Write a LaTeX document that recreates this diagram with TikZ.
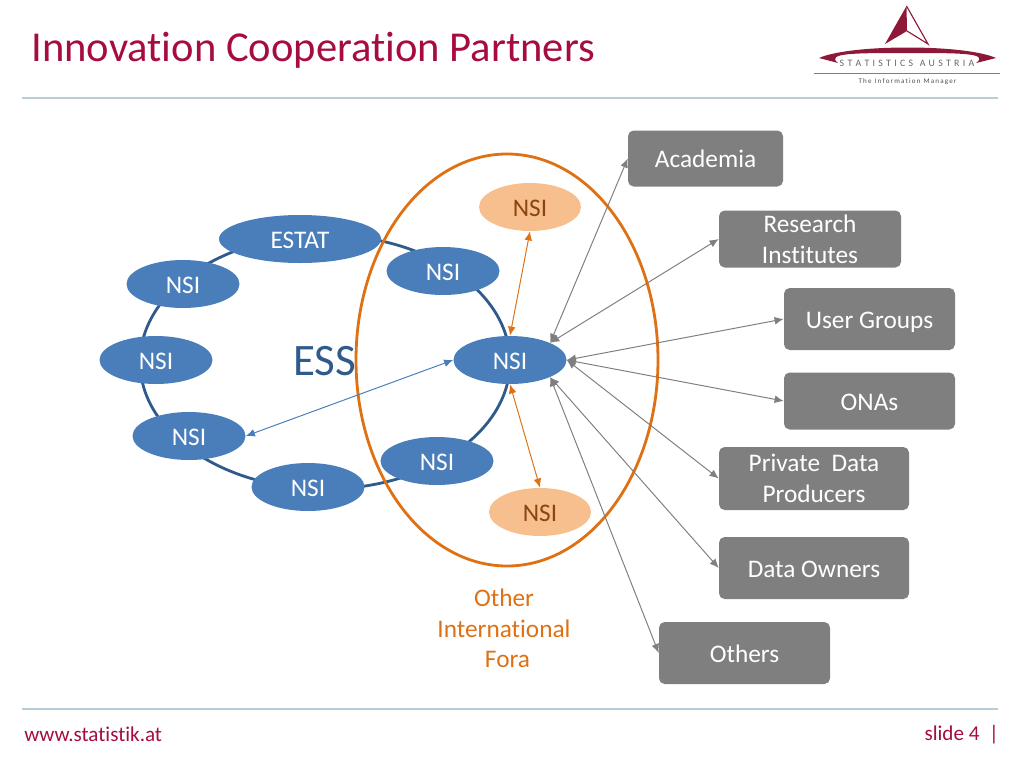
\documentclass[tikz,border=0pt]{standalone}
\usepackage{fontspec}
\setmainfont[Ligatures=NoCommon]{Carlito}
\usetikzlibrary{arrows.meta,shapes.geometric}
\definecolor{essblue}{HTML}{4A7EBB}
\definecolor{ringblue}{HTML}{2F5A8C}
\definecolor{foraorange}{HTML}{DE7114}
\definecolor{forabrown}{HTML}{8A4510}
\definecolor{peach}{HTML}{F7BE8E}
\definecolor{boxgray}{HTML}{7F7F7F}
\definecolor{titlered}{HTML}{A50D3F}
\definecolor{rulegray}{HTML}{B9CDD9}
\definecolor{logored}{HTML}{8E1838}
\def\px{0.25mm}
\tikzset{
	oneline/.style={text height=13pt, text depth=0pt},
	member/.style={ellipse, oneline, fill=essblue, text=white, inner sep=0pt, minimum width=113*\px, minimum height=48*\px, font=\fontsize{18}{18}\selectfont},
	fora/.style={ellipse, oneline, fill=peach, text=forabrown, inner sep=0pt, minimum width=102*\px, minimum height=48*\px, font=\fontsize{18}{18}\selectfont},
	partner/.style={rounded corners=4pt, fill=boxgray, text=white, align=center, font=\fontsize{18}{22}\selectfont, inner sep=0pt},
	link/.style={<->, >={Latex[length=6.5pt,width=5.5pt]}, boxgray, line width=0.7pt},
	orangelink/.style={<->, >={Latex[length=6.5pt,width=5.5pt]}, foraorange, line width=0.7pt},
	bluelink/.style={<->, >={Latex[length=6.5pt,width=5.5pt]}, essblue, line width=0.7pt}
}
\begin{document}
\begin{tikzpicture}[x=\px, y=-\px]
	\useasboundingbox (0, 0) rectangle (1024, 768);
	%%%%% HEADER %%%%%
	\node[anchor=west, text=titlered, inner sep=0pt, font=\fontsize{30.3}{30.3}\selectfont] (title) at (31, 50.5) {Innovation Cooperation Partners};
	\fill[rulegray] (22, 97) rectangle (998, 99);
	\fill[rulegray] (22, 707.5) rectangle (998, 709.5);
	\node[anchor=west, text=titlered, inner sep=0pt, font=\fontsize{15}{15}\selectfont] (web) at (24, 734.5) {www.statistik.at};
	\node[anchor=east, text=titlered, inner sep=0pt, font=\fontsize{15}{15}\selectfont] (slide) at (999, 734.5) {slide 4\ \ |};

	%%%%% LOGO %%%%%
	\fill[logored] (906.5, 6) -- (885, 44) -- (907, 31) -- cycle;
	\draw[logored, line width=0.8pt] (906.5, 6) -- (928, 44) -- (907, 31);
	\fill[logored] (819, 58) .. controls (850, 44) and (965, 44) .. (996, 58) -- (976, 63) .. controls (990, 53) and (960, 53) .. (907, 53) .. controls (855, 53) and (825, 53) .. (838, 63) -- cycle;
	\node[text=black!60, inner sep=0pt, font=\fontsize{7}{7}\selectfont] (brand) at (907, 63.5) {S\,\,T\,\,A\,\,T\,\,I\,\,S\,\,T\,\,I\,\,C\,\,S\ \ \ A\,\,U\,\,S\,\,T\,\,R\,\,I\,\,A};
	\draw[black!50, line width=0.4pt] (814, 73) -- (1000, 73);
	\node[text=black!70, inner sep=0pt, font=\fontsize{5}{5}\selectfont] (motto) at (907.5, 82) {T\,h\,e\ \ I\,n\,f\,o\,r\,m\,a\,t\,i\,o\,n\ \ M\,a\,n\,a\,g\,e\,r};

	%%%%% ESS RING %%%%%
	\draw[ringblue, line width=2pt] (325, 362) ellipse (185 and 127);
	\node[member, minimum width=162*\px] (estat) at (300, 239) {ESTAT};
	\node[member] (nsitop) at (443, 271) {NSI};
	\node[member] (nsiul) at (183, 284) {NSI};
	\node[member] (nsil) at (156, 360) {NSI};
	\node[member] (nsill) at (189, 436) {NSI};
	\node[member] (nsib) at (308, 487) {NSI};
	\node[member] (nsilow) at (437, 461) {NSI};
	\node[member] (hub) at (510, 360) {NSI};
	\node[text=ringblue, inner sep=0pt, font=\fontsize{32}{32}\selectfont] (ess) at (324.5, 361) {ESS};

	%%%%% OTHER FORA %%%%%
	\draw[foraorange, line width=2pt] (507, 360) ellipse (151 and 206);
	\node[fora] (foraup) at (530, 207) {NSI};
	\node[fora] (foradown) at (540, 512) {NSI};
	\node[text=foraorange, align=center, inner sep=0pt, font=\fontsize{18}{21.8}\selectfont] (foralabel) at (504, 628.5) {Other\\International\\\hspace*{5pt}Fora};

	%%%%% PARTNERS %%%%%
	\node[partner, oneline, minimum width=155*\px, minimum height=56*\px] (academia) at (705.5, 158.5) {Academia};
	\node[partner, minimum width=182*\px, minimum height=57*\px] (research) at (810, 239) {Research\\Institutes};
	\node[partner, oneline, minimum width=171*\px, minimum height=62*\px] (users) at (869.5, 319) {User Groups};
	\node[partner, oneline, minimum width=171*\px, minimum height=57*\px] (onas) at (869.5, 401) {ONAs};
	\node[partner, minimum width=190*\px, minimum height=63*\px] (private) at (814, 478.5) {Private\ \ Data\\Producers};
	\node[partner, oneline, minimum width=190*\px, minimum height=62*\px] (owners) at (814, 568) {Data Owners};
	\node[partner, oneline, minimum width=171*\px, minimum height=62*\px] (others) at (744.5, 653) {Others};

	%%%%% LINKS %%%%%
	\draw[bluelink] (hub.west) -- (nsill.east);
	\draw[orangelink] (hub.north) -- (foraup.south);
	\draw[orangelink] (hub.south) -- (foradown.north);
	\draw[link] (hub.north east) -- (academia.west);
	\draw[link] (hub.north east) -- (research.west);
	\draw[link] (hub.east) -- (users.west);
	\draw[link] (hub.east) -- (onas.west);
	\draw[link] (hub.east) -- (private.west);
	\draw[link] (hub.south east) -- (owners.west);
	\draw[link] (hub.south east) -- (others.west);
\end{tikzpicture}
\end{document}
